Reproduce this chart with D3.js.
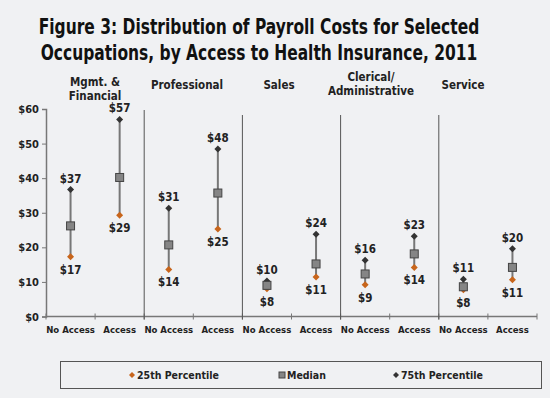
<!DOCTYPE html>
<html lang="en">
<head>
<meta charset="UTF-8">
<title>Figure 3</title>
<script src="https://d3js.org/d3.v7.min.js"></script>
<style>
  body { margin: 0; background: #f0f1f3; }
  text { font-family: "DejaVu Sans Condensed", "DejaVu Sans", Verdana, sans-serif; font-weight: bold; fill: #222; }
</style>
</head>
<body>
<div id="chart"></div>
<script>
// occupations and the two access groups
const occupations = ["Mgmt. &\nFinancial", "Professional", "Sales", "Clerical/\nAdministrative", "Service"];
const accessGroups = ["No Access", "Access"];

// values per occupation: [No Access, Access]
const p25 = [[17.3, 29.3], [13.6, 25.3], [8.0, 11.4], [9.2, 14.2], [7.7, 10.6]];
const median = [[26.2, 40.2], [20.7, 35.7], [9.0, 15.2], [12.3, 18.1], [8.6, 14.2]];
const p75 = [[36.7, 57.0], [31.3, 48.4], [10.3, 23.8], [16.3, 23.2], [10.8, 19.6]];
const p25Labels = [["$17", "$29"], ["$14", "$25"], ["$8", "$11"], ["$9", "$14"], ["$8", "$11"]];
const p75Labels = [["$37", "$57"], ["$31", "$48"], ["$10", "$24"], ["$16", "$23"], ["$11", "$20"]];
const yTicks = [0, 10, 20, 30, 40, 50, 60];

const width = 550, height = 398;
const orange = "#c8651b", dark = "#333";

const svg = d3.select("#chart").append("svg")
  .attr("width", width).attr("height", height);

// title (squeezed horizontally to match the narrower original face)
const titleLines = ["Figure 3: Distribution of Payroll Costs for Selected",
                    "Occupations, by Access to Health Insurance, 2011"];
titleLines.forEach((t, i) => {
  svg.append("g").attr("transform", `translate(259,${34 + i * 26}) scale(0.82,1)`)
    .append("text").attr("text-anchor", "middle")
    .style("font-size", "21px").style("fill", "#111")
    .text(t);
});

// flatten into rows
const rows = [];
occupations.forEach((occ, i) => {
  accessGroups.forEach((g, j) => {
    rows.push({ key: i + "-" + j, occ: i, group: g,
      lo: p25[i][j], mid: median[i][j], hi: p75[i][j],
      loLab: p25Labels[i][j], hiLab: p75Labels[i][j] });
  });
});

const x = d3.scaleBand().domain(rows.map(d => d.key)).range([46, 537]);
const y = d3.scaleLinear().domain([0, 60]).range([316.5, 109]);

// y axis
const yAxis = svg.append("g").attr("transform", "translate(46,0)")
  .call(d3.axisLeft(y).tickValues(yTicks).tickFormat(d => "$" + d).tickSize(4).tickPadding(3));
yAxis.select(".domain").attr("stroke", "#777").attr("stroke-width", 1.5);
yAxis.selectAll(".tick line").attr("stroke", "#777");
yAxis.selectAll("text").style("font-size", "11px")
  .style("font-family", "'DejaVu Sans Condensed', 'DejaVu Sans'")
  .style("font-weight", "bold").attr("fill", "#222");

// x axis baseline and ticks at band edges
svg.append("line").attr("x1", 46).attr("x2", 537).attr("y1", y(0)).attr("y2", y(0))
  .attr("stroke", "#777").attr("stroke-width", 1.5);
const edges = rows.map(d => x(d.key)).concat([x.range()[1]]);
svg.selectAll(".xtick").data(edges).join("line")
  .attr("x1", d => d).attr("x2", d => d)
  .attr("y1", y(0) - 3).attr("y2", y(0) + 3)
  .attr("stroke", "#777");
svg.selectAll(".xlab").data(rows).join("text")
  .attr("x", d => x(d.key) + x.bandwidth() / 2).attr("y", y(0) + 16)
  .attr("text-anchor", "middle").style("font-size", "9.5px")
  .text(d => d.group);

// separators between occupations
const seps = occupations.slice(1).map((o, i) => x((i + 1) + "-0"));
svg.selectAll(".sep").data(seps).join("line")
  .attr("x1", d => d).attr("x2", d => d)
  .attr("y1", (d, i) => i === 0 ? 110 : 115).attr("y2", y(0) + 3)
  .attr("stroke", "#555").attr("stroke-width", 1);

// occupation headers
const hx = d3.scalePoint().domain(occupations).range([95, 463]);
occupations.forEach(occ => {
  const lines = occ.split("\n");
  const t = svg.append("text").attr("text-anchor", "middle").style("font-size", "11.5px");
  const y0 = lines.length === 1 ? 89 : (occ.startsWith("Clerical") ? 81 : 85.5);
  lines.forEach((ln, k) => {
    t.append("tspan").attr("x", hx(occ)).attr("y", y0 + k * 14).text(ln);
  });
});

// range lines
const cx = d => x(d.key) + x.bandwidth() / 2;
svg.selectAll(".rng").data(rows).join("line")
  .attr("x1", cx).attr("x2", cx)
  .attr("y1", d => y(d.lo)).attr("y2", d => y(d.hi))
  .attr("stroke", "#777").attr("stroke-width", 2);

// small diamond: a rotated square
const diamond = "M0,-3.5L3.5,0L0,3.5L-3.5,0Z";
svg.selectAll(".lo").data(rows).join("path")
  .attr("d", diamond).attr("transform", d => `translate(${cx(d)},${y(d.lo)})`)
  .attr("fill", orange);
svg.selectAll(".hi").data(rows).join("path")
  .attr("d", diamond).attr("transform", d => `translate(${cx(d)},${y(d.hi)})`)
  .attr("fill", dark);
svg.selectAll(".mid").data(rows).join("rect")
  .attr("x", d => cx(d) - 4).attr("y", d => y(d.mid) - 4)
  .attr("width", 8).attr("height", 8)
  .attr("fill", "#858585").attr("stroke", "#444").attr("stroke-width", 1);

// value labels
svg.selectAll(".hiLab").data(rows).join("text")
  .attr("x", cx).attr("y", d => y(d.hi) - 7)
  .attr("text-anchor", "middle").style("font-size", "11.5px")
  .text(d => d.hiLab);
svg.selectAll(".loLab").data(rows).join("text")
  .attr("x", cx).attr("y", d => y(d.lo) + 17)
  .attr("text-anchor", "middle").style("font-size", "11.5px")
  .text(d => d.loLab);

// legend
svg.append("rect").attr("x", 60.5).attr("y", 361.5).attr("width", 481).attr("height", 27)
  .attr("fill", "none").attr("stroke", "#555");
const legend = [
  { name: "25th Percentile", x: 132, kind: "lo" },
  { name: "Median", x: 282, kind: "mid" },
  { name: "75th Percentile", x: 396, kind: "hi" }
];
legend.forEach(l => {
  if (l.kind === "mid") {
    svg.append("rect").attr("x", l.x - 3).attr("y", 372).attr("width", 6).attr("height", 6)
      .attr("fill", "#858585").attr("stroke", "#444");
  } else {
    svg.append("path").attr("d", "M0,-3L3,0L0,3L-3,0Z").attr("transform", `translate(${l.x},375)`)
      .attr("fill", l.kind === "lo" ? orange : dark);
  }
  svg.append("text").attr("x", l.x + 5).attr("y", 379).style("font-size", "10.5px").text(l.name);
});
</script>
</body>
</html>
